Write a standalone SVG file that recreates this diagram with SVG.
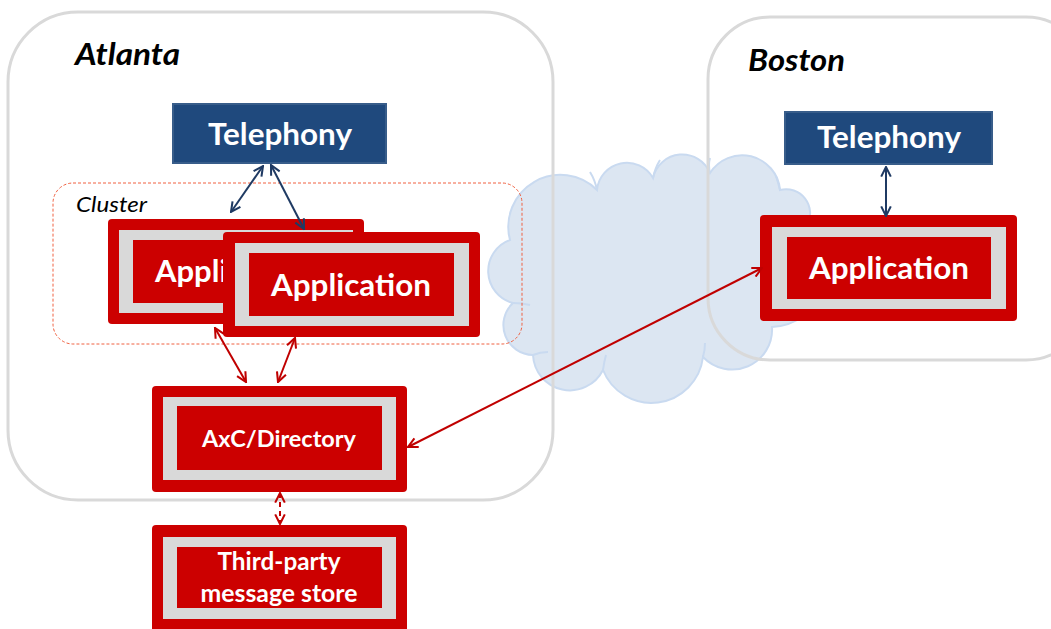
<svg xmlns="http://www.w3.org/2000/svg" width="1051" height="629" viewBox="0 0 1051 629">
<style>
.site{fill:none;stroke:#d9d9d9;stroke-width:3}
.sitelbl{font-family:Lato,"Liberation Sans",sans-serif;font-weight:bold;font-style:italic;font-size:31px;fill:#000}
.tel{fill:#1f497d;stroke:#385d8a;stroke-width:2}
.wt{font-family:Lato,"Liberation Sans",sans-serif;font-weight:bold;fill:#fff;text-anchor:middle}
.outer{fill:#cc0000}
.gray{fill:#d9d9d9}
.inner{fill:#cc0000}
.blue{stroke:#1f3a63;stroke-width:2;fill:none}
.red{stroke:#c00000;stroke-width:2;fill:none}
</style>
<defs>
<marker id="ab" viewBox="0 0 10 10" refX="9" refY="5" markerWidth="12" markerHeight="12" markerUnits="userSpaceOnUse" orient="auto-start-reverse">
<path d="M1,1 L9,5 L1,9" fill="none" stroke="#1f3a63" stroke-width="1.7"/>
</marker>
<marker id="ar" viewBox="0 0 10 10" refX="9" refY="5" markerWidth="12" markerHeight="12" markerUnits="userSpaceOnUse" orient="auto-start-reverse">
<path d="M1,1 L9,5 L1,9" fill="none" stroke="#c00000" stroke-width="1.7"/>
</marker>
</defs>
<rect width="1051" height="629" fill="#fff"/>
<g id="cloud">
<path d="M510,240 A52,52 0 0 1 597,190 A30,30 0 0 1 653,178 A30,30 0 0 1 710,173 A38,38 0 0 1 780,190 A24,24 0 0 1 807,225 A58,58 0 0 1 772,327 A40,40 0 0 1 703,357 A52,52 0 0 1 603,370 A37,37 0 0 1 533,355 A30,30 0 0 1 513,303 A33,33 0 0 1 510,240 Z" fill="#dce6f2" stroke="#c9daf0" stroke-width="2"/>
<path d="M597,190 Q595,180 590,172 M653,178 Q655,168 660,160 M710,173 Q708,165 710,158 M780,190 Q778,182 776,176 M513,303 Q522,303 530,305 M533,355 Q540,352 548,352 M603,370 Q604,362 606,355 M703,357 Q705,350 705,343" fill="none" stroke="#c9daf0" stroke-width="2"/>
</g>
<g id="atlanta">
<rect class="site" x="8" y="12" width="545" height="488" rx="70"/>
<text class="sitelbl" x="75" y="65" textLength="105" lengthAdjust="spacingAndGlyphs">Atlanta</text>
</g>
<g id="boston">
<rect class="site" x="708" y="17" width="380" height="343" rx="62"/>
<text class="sitelbl" x="748" y="71" textLength="97" lengthAdjust="spacingAndGlyphs">Boston</text>
</g>
<g id="cluster">
<rect x="53" y="183" width="469" height="161" rx="20" fill="none" stroke="#f06040" stroke-width="1" stroke-dasharray="3,2"/>
<text x="76" y="212" font-family="Lato,'Liberation Sans',sans-serif" font-style="italic" font-size="21" fill="#000" textLength="71" lengthAdjust="spacingAndGlyphs">Cluster</text>
</g>
<g id="telephony-atlanta">
<rect class="tel" x="173" y="104" width="213" height="59"/>
<text class="wt" x="280" y="145" font-size="30" textLength="144" lengthAdjust="spacingAndGlyphs">Telephony</text>
</g>
<g id="telephony-boston">
<rect class="tel" x="785" y="112" width="207" height="52"/>
<text class="wt" x="889" y="148" font-size="30" textLength="144" lengthAdjust="spacingAndGlyphs">Telephony</text>
</g>
<g id="app1">
<rect class="outer" x="108" y="219" width="256" height="105" rx="4"/>
<rect class="gray" x="119" y="230" width="234" height="83"/>
<rect class="inner" x="133" y="240" width="206" height="63"/>
<text x="155" y="282" font-family="Lato,'Liberation Sans',sans-serif" font-weight="bold" font-size="31" fill="#fff">Appli</text>
</g>
<g id="app2">
<rect class="outer" x="223" y="232" width="257" height="105" rx="4"/>
<rect class="gray" x="235" y="243" width="234" height="83"/>
<rect class="inner" x="249" y="253" width="205" height="63"/>
<text class="wt" x="351" y="296" font-size="31" textLength="160" lengthAdjust="spacingAndGlyphs">Application</text>
</g>
<g id="app-boston">
<rect class="outer" x="760" y="215" width="257" height="106" rx="4"/>
<rect class="gray" x="772" y="227" width="234" height="82"/>
<rect class="inner" x="787" y="237" width="204" height="62"/>
<text class="wt" x="889" y="279" font-size="31" textLength="160" lengthAdjust="spacingAndGlyphs">Application</text>
</g>
<g id="axc">
<rect class="outer" x="152" y="386" width="255" height="106" rx="4"/>
<rect class="gray" x="163" y="397" width="233" height="83"/>
<rect class="inner" x="177" y="406" width="205" height="64"/>
<text class="wt" x="279" y="447" font-size="23.5" textLength="154" lengthAdjust="spacingAndGlyphs">AxC/Directory</text>
</g>
<g id="store">
<rect class="outer" x="152" y="525" width="255" height="110" rx="4"/>
<rect class="gray" x="163" y="537" width="233" height="82"/>
<rect class="inner" x="177" y="547" width="205" height="61"/>
<text class="wt" x="279" y="570" font-size="24" textLength="123" lengthAdjust="spacingAndGlyphs">Third-party</text>
<text class="wt" x="279" y="602" font-size="24" textLength="157" lengthAdjust="spacingAndGlyphs">message store</text>
</g>
<g id="connectors">
<line class="blue" x1="263" y1="166" x2="231" y2="212" marker-start="url(#ab)" marker-end="url(#ab)"/>
<line class="blue" x1="271" y1="165" x2="304" y2="229" marker-start="url(#ab)" marker-end="url(#ab)"/>
<line class="blue" x1="886" y1="167" x2="886" y2="216" marker-start="url(#ab)" marker-end="url(#ab)"/>
<line class="red" x1="215" y1="328" x2="246" y2="382" marker-start="url(#ar)" marker-end="url(#ar)"/>
<line class="red" x1="295" y1="338" x2="278" y2="382" marker-start="url(#ar)" marker-end="url(#ar)"/>
<line class="red" x1="408" y1="447" x2="762" y2="268" marker-start="url(#ar)" marker-end="url(#ar)"/>
<line class="red" x1="280" y1="493" x2="280" y2="524" stroke-dasharray="5,4" marker-start="url(#ar)" marker-end="url(#ar)"/>
</g>
</svg>
